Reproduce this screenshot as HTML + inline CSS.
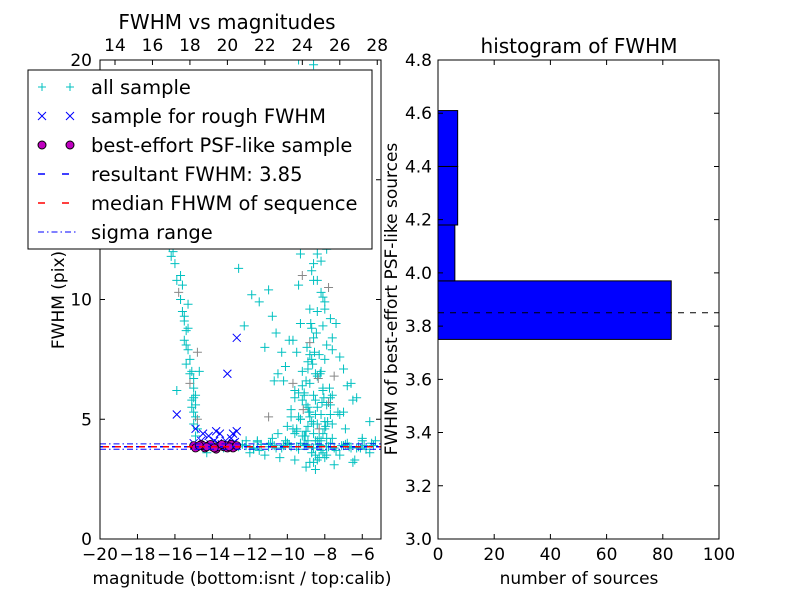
<!DOCTYPE html>
<html><head><meta charset="utf-8"><style>
body{margin:0;background:#fff}
svg{display:block;font-family:"DejaVu Sans","Liberation Sans",sans-serif}
</style></head><body>
<svg id="c" width="800" height="600" xmlns="http://www.w3.org/2000/svg">
<rect width="800" height="600" fill="#fff"/>
<g id="L"></g>
<g id="R"></g>
</svg>
<script>
// ---- scatter data (magnitude isnt, FWHM pix) ----
const allX = [-16.3,-16.2,-16.0,-15.9,-15.8,-15.7,-15.6,-15.5,-15.4,-15.5,-15.3,-15.2,-15.4,-15.1,-15.0,-15.2,-15.0,-14.9,-15.1,-14.9,-15.0,-14.9,-15.0,-14.8,-15.9,-14.7,-14.8,-15.6,-15.3,-15.7,-16.1,-15.4,-15.0,-14.9,-15.2,-15.5,-15.1,-14.8,-15.3,
-12.6,-12.3,-11.9,-11.5,-11.2,-11.0,-10.8,-10.6,-10.4,-10.2,-10.0,-9.9,-9.8,-9.6,-9.5,-9.4,-9.3,-9.2,-9.1,-9.0,-8.9,-8.8,-8.7,-8.6,-8.5,-8.4,-8.3,-8.2,-8.1,-8.0,-7.9,-7.8,-7.7,-7.6,-7.4,-7.2,-7.0,-6.8,-6.6,-6.3,
-10.1,-9.9,-9.7,-9.5,-9.3,-9.1,-8.9,-8.7,-8.5,-8.3,-8.1,-7.9,-7.7,-7.5,-9.8,-9.6,-9.4,-9.2,-9.0,-8.8,-8.6,-8.4,-8.2,-8.0,-7.8,-7.6,-9.7,-9.3,-8.9,-8.5,-8.1,-7.7,-9.5,-9.1,-8.7,-8.3,-7.9,-9.0,-8.6,-8.2,-8.8,-8.4,
-10.5,-10.0,-9.6,-9.2,-8.8,-8.4,-8.0,-7.6,-7.2,-6.9,-10.3,-9.4,-8.6,-7.8,-7.0,-11.0,-10.7,-6.5,-6.0,-5.6,-5.3,
-9.9,-9.5,-9.0,-8.6,-10.2,-9.7,-9.2,-8.9,-8.3,-10.6,-9.8,-9.1,-10.9,-10.1,-9.4,-8.7,-11.2,-10.4,
-14.6,-14.0,-13.4,-12.6,-12.2,-11.8,-11.4,-11.0,-10.6,-10.2,-9.8,-9.4,-9.0,-8.6,-8.2,-7.8,-7.4,-7.0,-6.6,-6.2,-5.8,-5.4,-12.0,-11.2,-10.4,-9.6,-8.8,-8.0,-7.2,-6.4,-5.6,-11.6,-10.8,-10.0,-9.2,-8.4,-7.6,-6.8,-6.0,-12.4,-9.0,-8.5,-7.5,-6.5,-11.5,-10.5,
-9.0,-8.9,-8.8,-8.7,-8.6,-8.5,-8.4,-8.3,-8.2,-8.1,-8.0,-7.9,-9.1,-9.2,-9.3,-8.95,-8.75,-8.55,-8.35,-8.15,-7.95,-7.75,-9.05,-8.85,-8.65,-8.45,-8.25,-8.05,-7.85,-9.15,-8.9,-8.7,-8.5,-8.3,-8.1,-7.9,-7.7,-9.4,-9.6,-9.8,-10.0,-10.2,-8.6,-8.4,-8.8,-8.2,-9.0,-8.0,-8.5,-8.7,-8.3,-9.2,-8.9,-8.6,-8.1,-7.6,-7.3,-9.5,-9.7,-8.8,-8.4,-8.2,-8.6,-9.0,
-11.8,-11.4,-11.0,-10.7,-10.3,-9.9,-9.5,-9.1,-8.7,-8.3,-7.9,-7.5,-7.1,-6.7,-6.3,-5.9,-5.5,-12.2,-11.6,-10.9,-10.1,-9.3,-8.5,-7.7,-6.9,-6.1,-13.8,-13.0,-14.3,-12.9];
const allY = [12.2,11.8,11.5,10.8,10.3,10.0,9.5,9.1,8.7,8.3,7.9,7.5,7.3,7.0,6.7,6.5,6.3,6.0,5.8,5.6,5.3,5.1,4.8,4.6,6.2,7.0,7.8,10.6,9.8,11.0,12.0,8.1,5.9,4.3,6.9,9.3,5.5,5.0,8.8,
11.3,8.9,10.2,9.9,8.0,10.4,9.3,8.6,12.4,13.5,12.8,14.2,15.0,16.3,13.1,17.5,11.9,14.8,12.3,15.6,16.8,13.9,11.2,14.4,12.7,10.8,13.3,11.6,10.1,9.6,12.1,10.5,9.2,8.4,9.0,7.6,7.1,6.4,6.5,5.9,
7.2,8.3,6.5,7.8,9.0,6.1,7.4,8.8,6.9,7.7,6.3,8.1,5.6,6.8,5.4,6.2,5.1,5.8,6.6,5.3,6.0,5.5,7.0,4.9,5.7,4.8,4.6,5.0,4.7,5.2,4.4,5.9,4.5,4.3,4.9,4.6,4.2,5.6,4.4,4.1,5.1,4.8,
6.9,4.7,5.9,6.4,8.2,9.5,7.5,6.0,5.2,4.6,7.8,10.6,11.5,12.9,5.3,5.1,6.6,5.8,4.2,4.9,4.1,
18.4,19.3,17.2,19.8,16.1,18.0,16.6,19.0,17.6,15.3,15.7,18.7,16.9,17.9,20.0,15.9,13.7,14.6,
3.9,3.95,3.8,3.85,3.9,3.75,3.85,3.95,3.8,3.9,3.85,3.75,3.95,3.8,3.9,3.85,3.7,3.9,3.8,3.85,3.75,3.9,3.6,3.5,3.4,3.3,3.2,3.4,3.5,3.3,3.6,4.1,4.2,4.0,4.3,4.1,4.2,4.0,4.1,3.95,3.0,2.9,3.1,3.2,3.7,4.4,
4.5,5.5,6.5,7.5,4.8,5.8,6.8,4.2,5.2,6.2,4.6,5.6,6.0,7.0,5.0,8.0,9.0,7.8,6.7,5.7,4.7,6.3,4.3,5.3,7.3,8.6,6.9,5.9,4.9,5.4,4.1,3.6,3.5,3.4,3.6,3.5,5.2,6.1,4.4,5.1,4.0,6.6,10.8,11.9,9.6,10.3,12.6,9.9,13.6,15.4,14.9,11.0,7.1,8.4,8.9,7.9,5.3,4.6,8.3,7.7,3.3,3.7,3.2,
3.9,3.8,3.95,3.85,3.9,3.8,3.95,3.85,3.9,3.8,3.95,3.85,3.8,3.9,3.85,3.8,3.9,4.0,4.1,4.05,4.0,4.1,4.0,4.1,4.0,3.95,3.8,3.9,3.85,3.6];
const roughX = [-15.9,-14.9,-14.5,-13.8,-13.6,-12.9,-12.7,-14.2,-13.2,-12.7,-15.0,-14.6,-14.1,-13.7,-13.3,-13.0,-12.8,-14.4,-13.9,-13.5,-12.9];
const roughY = [5.2,4.6,4.4,4.5,4.4,4.4,4.5,4.3,6.9,8.4,4.0,4.1,3.95,4.0,4.1,4.2,4.05,3.9,4.1,3.95,4.0];
const psfX = [-15.0,-14.8,-14.6,-14.4,-14.2,-14.0,-13.8,-13.6,-13.4,-13.2,-13.0,-12.8,-14.9,-14.5,-14.1,-13.7,-13.3,-12.9,-14.7,-14.3,-13.9,-13.5,-13.1,-12.7];
const psfY = [3.9,3.85,3.95,3.8,3.9,3.85,3.75,3.9,3.85,3.8,3.95,3.85,3.8,3.9,3.95,3.85,3.9,3.8,3.9,3.85,3.8,3.95,3.85,3.9];
const resultFWHM = 3.85, medianFWHM = 3.85, sigmaLo = 3.75, sigmaHi = 3.97;
const xTicks = [-20,-18,-16,-14,-12,-10,-8,-6];
const yTicks = [0,5,10,15,20];
const topTicks = [14,16,18,20,22,24,26,28];
const calibOffset = 33.2;
// ---- histogram data ----
const binLo = [3.75,3.97,4.18,4.40];
const binHi = [3.97,4.18,4.40,4.61];
const binCount = [83,6,7,7];
const hxTicks = [0,20,40,60,80,100];
const hyTicks = [3.0,3.2,3.4,3.6,3.8,4.0,4.2,4.4,4.6,4.8];

const NS="http://www.w3.org/2000/svg";
function el(p,t,a,txt){const e=document.createElementNS(NS,t);for(const k in a)e.setAttribute(k,a[k]);if(txt!==undefined)e.textContent=txt;p.appendChild(e);return e;}
const L=document.getElementById('L'), R=document.getElementById('R');
const lx0=100,lx1=381,ly0=539,ly1=60;
const sx=v=>lx0+(v+20)/15*(lx1-lx0), sy=v=>ly0-v/20*(ly0-ly1);
const tx=v=>sx(v-calibOffset);
const defs=el(document.getElementById('c'),'defs',{});
const cp=el(defs,'clipPath',{id:'cl'});el(cp,'rect',{x:lx0,y:ly1,width:lx1-lx0,height:ly0-ly1});
const pts=el(L,'g',{'clip-path':'url(#cl)'});


for(let i=0;i<allX.length;i++){const x=sx(allX[i]),y=sy(allY[i]);
 const m=el(pts,'path',{d:`M${x-4.5},${y}h9M${x},${y-4.5}v9`,stroke:(i%11==4&&allY[i]>4.5)?'#888':'#00c0c0','stroke-width':1});
 
 }
for(let i=0;i<roughX.length;i++){const x=sx(roughX[i]),y=sy(roughY[i]);
 const m=el(pts,'path',{d:`M${x-4},${y-4}l8,8M${x-4},${y+4}l8,-8`,stroke:'#0000ff','stroke-width':1});
 
 }
for(let i=0;i<psfX.length;i++){const m=el(pts,'circle',{cx:sx(psfX[i]),cy:sy(psfY[i]),r:4,fill:'#bf00bf',stroke:'#000','stroke-width':0.8});
 
 }
let ln=el(pts,'line',{x1:lx0,x2:lx1,y1:sy(resultFWHM),y2:sy(resultFWHM),stroke:'#0000ff','stroke-width':1.5,'stroke-dasharray':'6,6'});

ln=el(pts,'line',{x1:lx0+3,x2:lx1,y1:sy(medianFWHM),y2:sy(medianFWHM),stroke:'#ff0000','stroke-width':1.5,'stroke-dasharray':'6,6'});

for(const s of [sigmaLo,sigmaHi]){ln=el(pts,'line',{x1:lx0,x2:lx1,y1:sy(s),y2:sy(s),stroke:'#0000ff','stroke-width':1,'stroke-dasharray':'6,3,1.5,3'});
 }
el(L,'rect',{x:lx0,y:ly1,width:lx1-lx0,height:ly0-ly1,fill:'none',stroke:'#000','stroke-width':1});
for(const t of xTicks){const x=sx(t);el(L,'path',{d:`M${x},${ly0}v-5`,stroke:'#000'});
 const e=el(L,'text',{x:x,y:ly0+21,'font-size':17,'text-anchor':'middle'},(t<0?'\u2212':'')+Math.abs(t));
 }
for(const t of topTicks){const x=tx(t);el(L,'path',{d:`M${x},${ly1}v5`,stroke:'#000'});
 const e=el(L,'text',{x:x,y:ly1-9,'font-size':17,'text-anchor':'middle'},t);
 }
for(const t of yTicks){const y=sy(t);el(L,'path',{d:`M${lx0},${y}h5M${lx1},${y}h-5`,stroke:'#000'});
 const e=el(L,'text',{x:lx0-8,y:y+6,'font-size':17,'text-anchor':'end'},t);
 }
let t=el(L,'text',{x:242,y:584,'font-size':17,'text-anchor':'middle'},'magnitude (bottom:isnt / top:calib)');

t=el(L,'text',{x:64,y:300,'font-size':17,'text-anchor':'middle',transform:'rotate(-90 64 300)'},'FWHM (pix)');

t=el(L,'text',{x:227,y:29,'font-size':20,'text-anchor':'middle'},'FWHM vs magnitudes');

const lg=el(L,'g',{});

el(lg,'rect',{x:28,y:70,width:344,height:179,fill:'#fff',stroke:'#000','stroke-width':1});
const labels=['all sample','sample for rough FWHM','best-effort PSF-like sample','resultant FWHM: 3.85','median FHWM of sequence','sigma range'];
labels.forEach((s,i)=>{const y=87+i*29;
 if(i==0){for(const x of [42,70])el(lg,'path',{d:`M${x-4},${y}h8M${x},${y-4}v8`,stroke:'#00c0c0'});}
 if(i==1){for(const x of [42,70])el(lg,'path',{d:`M${x-4},${y-4}l8,8M${x-4},${y+4}l8,-8`,stroke:'#0000ff'});}
 if(i==2){for(const x of [42,70])el(lg,'circle',{cx:x,cy:y,r:4,fill:'#bf00bf',stroke:'#000'});}
 if(i==3)el(lg,'line',{x1:38,x2:76,y1:y,y2:y,stroke:'#0000ff','stroke-width':1.5,'stroke-dasharray':'7,17'});
 if(i==4)el(lg,'line',{x1:38,x2:76,y1:y,y2:y,stroke:'#ff0000','stroke-width':1.5,'stroke-dasharray':'7,17'});
 if(i==5)el(lg,'line',{x1:38,x2:76,y1:y,y2:y,stroke:'#0000ff','stroke-width':1,'stroke-dasharray':'6,3,1.5,3'});
 const e=el(lg,'text',{x:91,y:y+7,'font-size':19.5},s);
 });
const rx0=438,rx1=719;
const hx=v=>rx0+v/100*(rx1-rx0), hy=v=>ly0-(v-3.0)/1.8*(ly0-ly1);
binCount.forEach((c,i)=>{const b=el(R,'rect',{x:hx(0),y:hy(binHi[i]),width:hx(c)-hx(0),height:hy(binLo[i])-hy(binHi[i]),fill:'#0000ff',stroke:'#000','stroke-width':1});
 });
ln=el(R,'line',{x1:rx0,x2:rx1,y1:hy(resultFWHM),y2:hy(resultFWHM),stroke:'#000','stroke-width':1,'stroke-dasharray':'6,6'});

el(R,'rect',{x:rx0,y:ly1,width:rx1-rx0,height:ly0-ly1,fill:'none',stroke:'#000'});
for(const v of hxTicks){const x=hx(v);el(R,'path',{d:`M${x},${ly0}v-5M${x},${ly1}v5`,stroke:'#000'});
 const e=el(R,'text',{x:x,y:ly0+21,'font-size':17,'text-anchor':'middle'},v);
 }
for(const v of hyTicks){const y=hy(v);el(R,'path',{d:`M${rx0},${y}h5M${rx1},${y}h-5`,stroke:'#000'});
 const e=el(R,'text',{x:rx0-6,y:y+6,'font-size':17,'text-anchor':'end'},v.toFixed(1));
 }
t=el(R,'text',{x:579,y:584,'font-size':17,'text-anchor':'middle'},'number of sources');

t=el(R,'text',{x:397,y:299,'font-size':17,'text-anchor':'middle',transform:'rotate(-90 397 299)'},'FWHM of best-effort PSF-like sources');

t=el(R,'text',{x:579,y:53,'font-size':20,'text-anchor':'middle'},'histogram of FWHM');

</script>
</body></html>
